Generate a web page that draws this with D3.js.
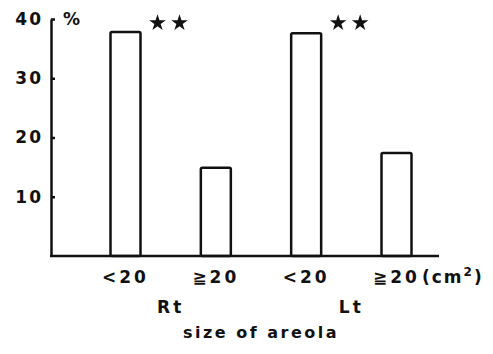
<!DOCTYPE html>
<html>
<head>
<meta charset="utf-8">
<script src="https://cdn.jsdelivr.net/npm/d3@7"></script>
<style>
  body { margin: 0; background: #fff; }
  text { font-family: "DejaVu Sans", "Liberation Sans", Arial, sans-serif; font-weight: bold; fill: #111; }
</style>
</head>
<body>
<svg id="chart" width="493" height="354"></svg>
<script>
// values (% of subjects)
var keys = ["Rt<20", "Rt>=20", "Lt<20", "Lt>=20"];
var sizeLabels = ["<20", "≧20", "<20", "≧20"];
var sideLabels = ["Rt", "Lt"];
var values = [37.8, 14.9, 37.6, 17.4];
var signif = [2, 0, 2, 0];   // number of stars
var yTicks = [10, 20, 30, 40];

var svg = d3.select("#chart");

var x = d3.scalePoint().domain(keys).range([125.5, 396.5]),
    y = d3.scaleLinear().domain([0, 40]).range([256, 19]);
var barW = 30;

// y axis, ticks pointing inward
var yAxis = svg.append("g")
    .attr("transform", "translate(51,0)")
    .call(d3.axisLeft(y).tickValues(yTicks).tickSize(-4).tickSizeOuter(0).tickPadding(8));
yAxis.select(".domain").attr("stroke", "#111").attr("stroke-width", 2.5);
yAxis.selectAll(".tick line").attr("stroke", "#111").attr("stroke-width", 2.5);
yAxis.selectAll(".tick text")
    .attr("font-size", 17)
    .attr("font-family", null)
    .style("letter-spacing", "2px")
    .attr("fill", "#111");

svg.append("text")
    .attr("x", 63).attr("y", y(40) + 6)
    .attr("font-size", 17)
    .text("%");

// bars
svg.selectAll(".bar")
  .data(values)
  .enter().append("rect")
    .attr("class", "bar")
    .attr("x", function(d, i) { return x(keys[i]) - barW / 2; })
    .attr("y", function(d) { return y(d); })
    .attr("width", barW)
    .attr("height", function(d) { return y(0) - y(d); })
    .attr("fill", "#fff")
    .attr("stroke", "#111")
    .attr("stroke-width", 2.5)
    .attr("rx", 1.5);

// baseline
svg.append("line")
    .attr("x1", 50).attr("x2", 439)
    .attr("y1", y(0)).attr("y2", y(0))
    .attr("stroke", "#111").attr("stroke-width", 2.5);

// significance stars
var star = d3.symbol().type(d3.symbolStar).size(85);
values.forEach(function(v, i) {
  for (var k = 0; k < signif[i]; k++) {
    svg.append("path")
      .attr("d", star())
      .attr("transform", "translate(" + (x(keys[i]) + 32 + k * 22) + "," + (y(40) + 4) + ")")
      .attr("fill", "#111");
  }
});

// category labels
var catText = svg.selectAll(".cat")
  .data(sizeLabels)
  .enter().append("text")
    .attr("class", "cat")
    .attr("x", function(d, i) { return x(keys[i]); })
    .attr("y", 283)
    .attr("text-anchor", "middle")
    .attr("font-size", 17)
    .style("letter-spacing", "3px")
    .text(function(d) { return d; });

var last = catText.nodes()[sizeLabels.length - 1];
var bb = last.getBBox();
var unit = svg.append("text")
    .attr("x", bb.x + bb.width + 2)
    .attr("y", 283)
    .attr("font-size", 17)
    .style("letter-spacing", "2px");
unit.append("tspan").text("(cm");
unit.append("tspan").attr("font-size", 12).attr("dy", -7).text("2");
unit.append("tspan").attr("dy", 7).text(")");

// Rt / Lt
svg.selectAll(".side")
  .data(sideLabels)
  .enter().append("text")
    .attr("class", "side")
    .attr("x", function(d, i) { return (x(keys[2 * i]) + x(keys[2 * i + 1])) / 2; })
    .attr("y", 313)
    .attr("text-anchor", "middle")
    .attr("font-size", 17)
    .style("letter-spacing", "3px")
    .text(function(d) { return d; });

svg.append("text")
    .attr("x", (x(keys[0]) + x(keys[3])) / 2)
    .attr("y", 338)
    .attr("text-anchor", "middle")
    .attr("font-size", 16)
    .style("letter-spacing", "2.5px")
    .text("size of areola");
</script>
</body>
</html>
